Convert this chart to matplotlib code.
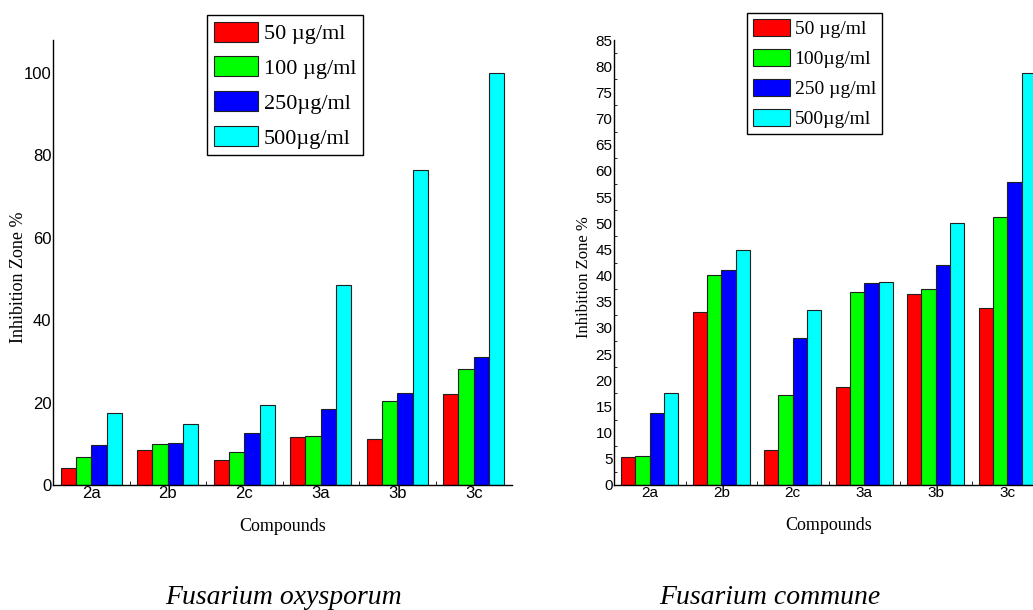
import numpy as np
import matplotlib
matplotlib.use("Agg")
import matplotlib.pyplot as plt
from matplotlib.ticker import MultipleLocator

# ---------------------------------------------------------------------------
# Data
# ---------------------------------------------------------------------------

compounds = ["2a", "2b", "2c", "3a", "3b", "3c"]

# Fusarium oxysporum
oxy_labels = ["50 µg/ml", "100 µg/ml", "250µg/ml", "500µg/ml"]
oxy_50 = [4.2, 8.4, 6.1, 11.6, 11.2, 22.1]
oxy_100 = [6.9, 10.0, 8.1, 11.9, 20.5, 28.1]
oxy_250 = [9.6, 10.3, 12.7, 18.4, 22.4, 31.1]
oxy_500 = [17.5, 14.9, 19.4, 48.5, 76.4, 100.0]

# Fusarium commune
com_labels = ["50 µg/ml", "100µg/ml", "250 µg/ml", "500µg/ml"]
com_50 = [5.35, 33.0, 6.7, 18.8, 36.4, 33.9]
com_100 = [5.6, 40.1, 17.2, 36.8, 37.4, 51.2]
com_250 = [13.8, 41.0, 28.0, 38.6, 42.1, 57.9]
com_500 = [17.5, 44.9, 33.4, 38.7, 50.0, 78.7]

colors = ["#ff0000", "#00ff00", "#0000ff", "#00ffff"]

SANS = ["Liberation Sans Narrow", "Liberation Sans", "DejaVu Sans"]
SERIF = ["Liberation Serif", "DejaVu Serif"]

W, H = 1033, 610
fig = plt.figure(figsize=(W / 100, H / 100), dpi=100)
fig.patch.set_facecolor("white")


def px(x0, y0, x1, y1):
    # pixel box -> figure fraction rect
    return [x0 / W, 1 - y1 / H, (x1 - x0) / W, (y1 - y0) / H]


def panel(rect, series, labels, ymax, ystep, opts, minor=None):
    ax = fig.add_axes(rect)
    x = np.arange(len(compounds))
    width = 0.2
    for i, (vals, lab) in enumerate(zip(series, labels)):
        ax.bar(x + (i - 1.5) * width, vals, width, color=colors[i],
               edgecolor="#202020", linewidth=0.8, label=lab)
    ax.set_xlim(-0.5, len(compounds) - 0.5)
    ax.set_ylim(0, ymax)
    ax.set_xticks(x)
    ax.set_xticklabels(compounds, family=SANS, fontsize=opts["tick"])
    ax.set_xticks(np.arange(0.5, len(compounds) - 0.5), minor=True)
    ax.yaxis.set_major_locator(MultipleLocator(ystep))
    if minor:
        ax.yaxis.set_minor_locator(MultipleLocator(minor))
    for lbl in ax.get_yticklabels():
        lbl.set_family(SANS)
        lbl.set_fontsize(opts["tick"])
    ax.tick_params(axis="both", which="major", direction="in", length=0, pad=1)
    ax.tick_params(axis="x", which="minor", direction="in", length=3, width=0.6)
    ax.tick_params(axis="y", which="minor", direction="in", length=2, width=0.6)
    ax.spines["top"].set_visible(False)
    ax.spines["right"].set_visible(False)
    ax.spines["left"].set_linewidth(1.0)
    ax.spines["bottom"].set_linewidth(1.0)
    ax.set_xlabel("Compounds", family=SERIF, fontsize=13, labelpad=12)
    leg = ax.legend(loc="upper left", frameon=True, fancybox=False,
                    edgecolor="black", framealpha=1, prop={"family": SERIF, "size": opts["size"]},
                    handlelength=opts["hl"], handleheight=1.0, handletextpad=0.25,
                    labelspacing=opts["ls"], borderpad=0.3, borderaxespad=0,
                    bbox_to_anchor=opts["anchor"], bbox_transform=fig.transFigure)
    leg.get_frame().set_linewidth(1.0)
    return ax


ax1 = panel(px(53, 40, 512, 485), [oxy_50, oxy_100, oxy_250, oxy_500], oxy_labels,
            108, 20, {"size": 16, "hl": 2.0, "ls": 0.55, "tick": 12,
                      "anchor": (207 / W, 1 - 15 / H)})
ax2 = panel(px(614, 40, 1043, 485), [com_50, com_100, com_250, com_500], com_labels,
            85, 5, {"size": 14, "hl": 1.9, "ls": 0.55, "tick": 11,
                    "anchor": (747 / W, 1 - 13 / H)}, minor=2.5)

fig.text(19 / W, 1 - 277 / H, "Inhibition Zone %", rotation=90, ha="center", va="center",
         family=SERIF, fontsize=13)
fig.text(584 / W, 1 - 277 / H, "Inhibition Zone %", rotation=90, ha="center", va="center",
         family=SERIF, fontsize=12)

fig.text(283 / W, 1 - 597 / H, "Fusarium oxysporum", ha="center", va="center",
         family=SERIF, style="italic", fontsize=20)
fig.text(770 / W, 1 - 597 / H, "Fusarium commune", ha="center", va="center",
         family=SERIF, style="italic", fontsize=20)

fig.savefig("out.png", dpi=100, facecolor="white")
